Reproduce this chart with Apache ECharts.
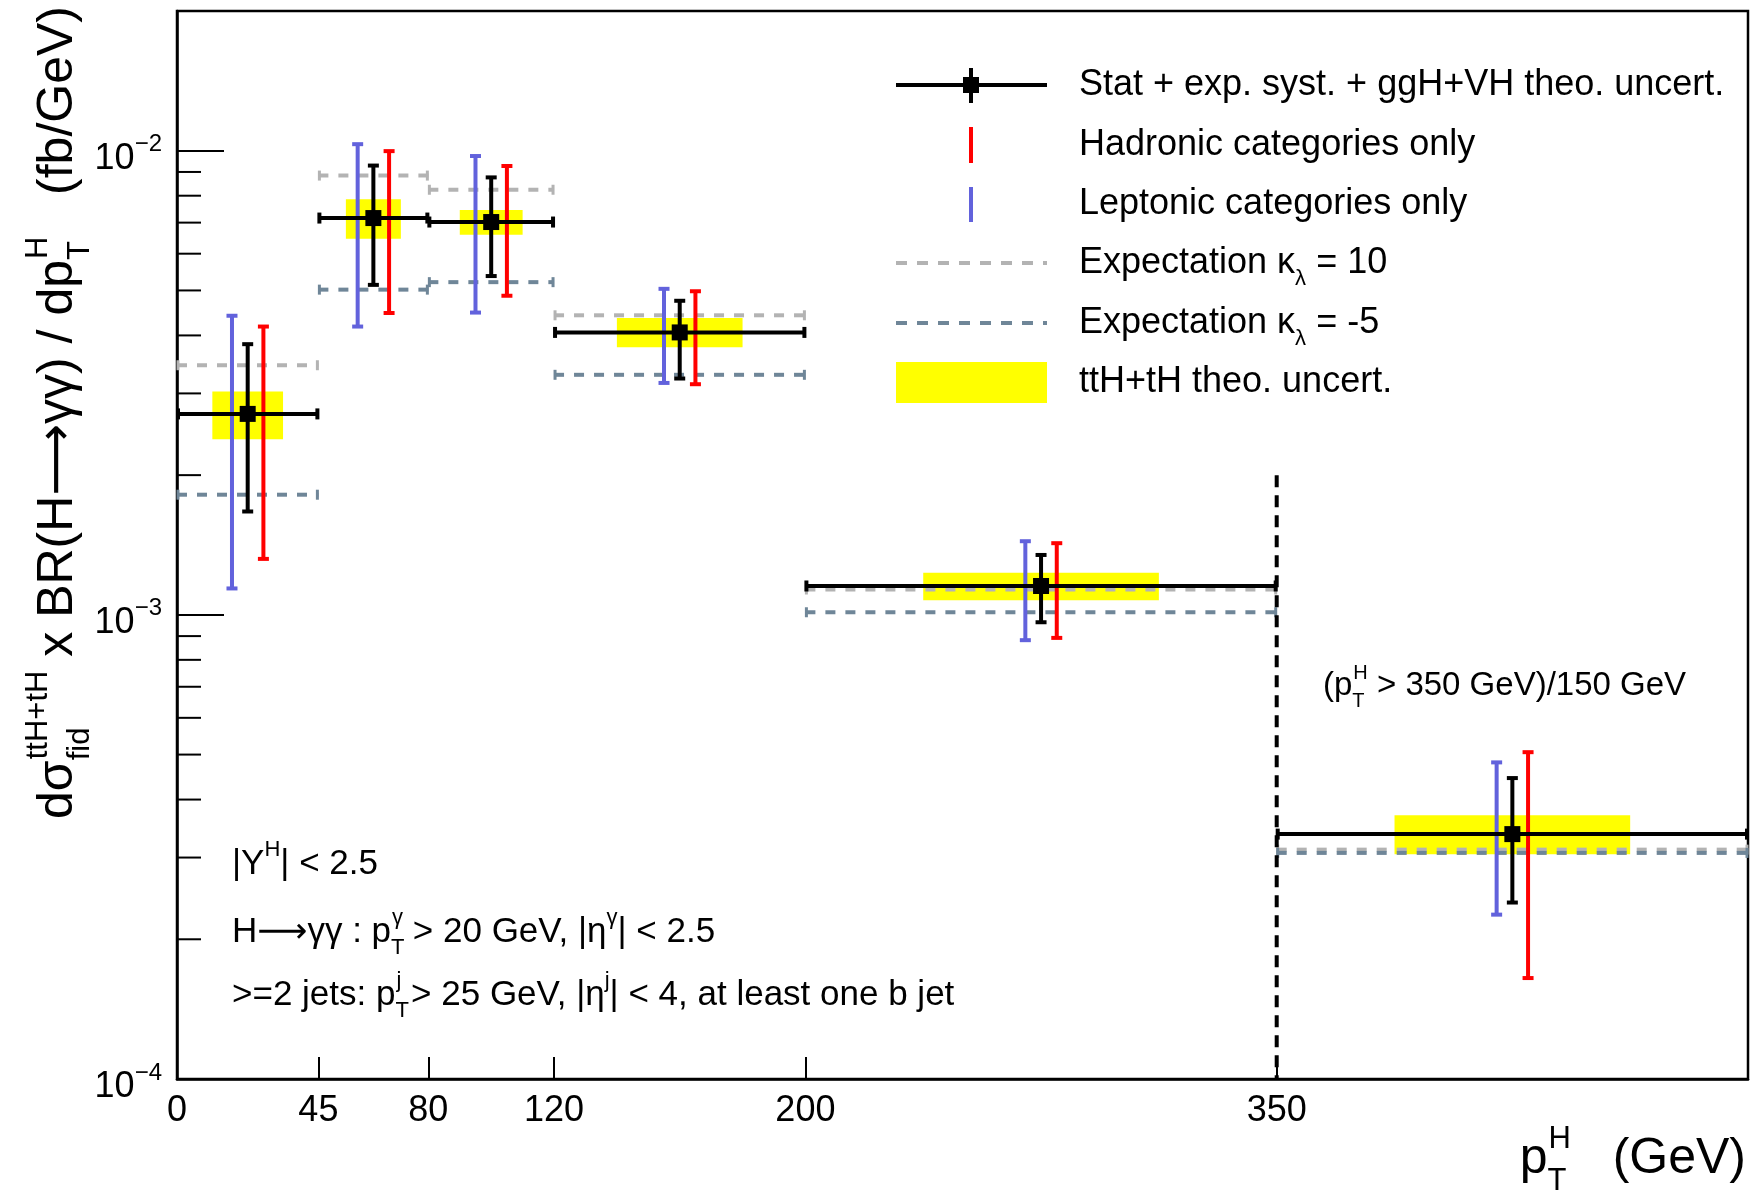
<!DOCTYPE html>
<html>
<head>
<meta charset="utf-8">
<title>ttH+tH differential cross section vs pT(H)</title>
<script src="https://cdn.jsdelivr.net/npm/echarts@6/dist/echarts.min.js"></script>
<style>
  html, body { margin: 0; padding: 0; background: #fff; }
  #chart { width: 1754px; height: 1196px; }
</style>
</head>
<body>
<div id="chart"></div>
<script>
// pT(H) bins in GeV, the last one is the overflow (>350) shown per 150 GeV
var binLo = [0, 45, 80, 120, 200, 350]
var binHi = [45, 80, 120, 200, 350, 500]

// measured dsigma/dpT x BR (fb/GeV)
var central = [2.71e-3, 7.16e-3, 7.02e-3, 4.06e-3, 1.154e-3, 3.37e-4]
var totLo = [1.67e-3, 5.14e-3, 5.37e-3, 3.23e-3, 9.64e-4, 2.40e-4]
var totHi = [3.83e-3, 9.29e-3, 8.76e-3, 4.75e-3, 1.346e-3, 4.45e-4]
// hadronic categories only
var hadLo = [1.32e-3, 4.47e-3, 4.87e-3, 3.14e-3, 8.92e-4, 1.65e-4]
var hadHi = [4.18e-3, 9.98e-3, 9.27e-3, 4.98e-3, 1.427e-3, 5.06e-4]
// leptonic categories only
var lepLo = [1.14e-3, 4.18e-3, 4.48e-3, 3.16e-3, 8.82e-4, 2.26e-4]
var lepHi = [4.41e-3, 1.033e-2, 9.74e-3, 5.04e-3, 1.441e-3, 4.81e-4]
// ttH+tH theory band
var theoLo = [2.39e-3, 6.46e-3, 6.59e-3, 3.77e-3, 1.075e-3, 3.05e-4]
var theoHi = [3.03e-3, 7.86e-3, 7.45e-3, 4.36e-3, 1.232e-3, 3.70e-4]
// expectations
var expK10 = [3.45e-3, 8.84e-3, 8.24e-3, 4.42e-3, 1.134e-3, 3.12e-4]
var expKm5 = [1.815e-3, 5.02e-3, 5.21e-3, 3.29e-3, 1.013e-3, 3.07e-4]

// overflow separator
var sepX = 350
var sepTop = 2.0e-3

// axis ticks
var xTicks = [0, 45, 80, 120, 200, 350]
var yMinorTicks = [2e-4, 3e-4, 4e-4, 5e-4, 6e-4, 7e-4, 8e-4, 9e-4,
  2e-3, 3e-3, 4e-3, 5e-3, 6e-3, 7e-3, 8e-3, 9e-3]

var FONT = "'Liberation Sans', Arial, Helvetica, 'DejaVu Sans', sans-serif"
var BLUE = '#6262dc'
var RED = '#ff0000'
var GREY = '#b3b3b3'
var SLATE = '#6f8698'
var CAP = 5.5
var SHIFT = 5 // GeV offset of the hadronic / leptonic bars
var ARROW = '\u27f6'

function seg(x1, y1, x2, y2, style) {
  return { type: 'line', shape: { x1: x1, y1: y1, x2: x2, y2: y2 }, style: style }
}

function rows() {
  var cols = Array.prototype.slice.call(arguments)
  return binLo.map(function(lo, i) {
    return [lo, binHi[i]].concat(cols.map(function(c) { return c[i] }))
  })
}

function richStyles(size) {
  var s = Math.round(size * 0.62)
  var base = { fontFamily: FONT, fill: '#000', color: '#000', align: 'left', verticalAlign: 'middle' }
  return {
    m: Object.assign({}, base, { fontSize: size }),
    sup: Object.assign({}, base, { fontSize: s, padding: [0, 0, Math.round(size * 0.8), 0] }),
    sub: Object.assign({}, base, { fontSize: s, padding: [Math.round(size * 0.9), 0, 0, 0] }),
    subw: Object.assign({}, base, { fontSize: s, width: 1, padding: [Math.round(size * 0.9), 0, 0, 0] })
  }
}

function label(text, x, y, size, align, rotation) {
  return {
    type: 'text',
    x: x,
    y: y,
    rotation: rotation || 0,
    silent: true,
    style: {
      text: text,
      rich: richStyles(size),
      font: size + 'px ' + FONT,
      fill: '#000',
      align: align || 'left',
      verticalAlign: 'middle'
    }
  }
}

function renderBand(params, api) {
  var lo = api.value(0)
  var hi = api.value(1)
  var q = (hi - lo) / 4
  var a = api.coord([lo + q, api.value(3)])
  var b = api.coord([hi - q, api.value(2)])
  return {
    type: 'rect',
    shape: { x: a[0], y: a[1], width: b[0] - a[0], height: b[1] - a[1] },
    style: { fill: '#ffff00' }
  }
}

function dashRenderer(color) {
  return function(params, api) {
    var a = api.coord([api.value(0), api.value(2)])
    var b = api.coord([api.value(1), api.value(2)])
    return {
      type: 'group',
      children: [
        seg(a[0], a[1], b[0], b[1], { stroke: color, lineWidth: 4, lineDash: [10, 10] }),
        seg(a[0] + 1, a[1] - 5, a[0] + 1, a[1] + 5, { stroke: color, lineWidth: 3 }),
        seg(b[0] - 1, b[1] - 5, b[0] - 1, b[1] + 5, { stroke: color, lineWidth: 3 })
      ]
    }
  }
}

function barRenderer(color, shift) {
  return function(params, api) {
    var x = (api.value(0) + api.value(1)) / 2 + shift
    var t = api.coord([x, api.value(3)])
    var b = api.coord([x, api.value(2)])
    var s = { stroke: color, lineWidth: 4 }
    return {
      type: 'group',
      children: [
        seg(t[0], t[1], b[0], b[1], s),
        seg(t[0] - CAP, t[1], t[0] + CAP, t[1], s),
        seg(b[0] - CAP, b[1], b[0] + CAP, b[1], s)
      ]
    }
  }
}

function renderTotal(params, api) {
  var lo = api.value(0)
  var hi = api.value(1)
  var mid = (lo + hi) / 2
  var l = api.coord([lo, api.value(2)])
  var r = api.coord([hi, api.value(2)])
  var c = api.coord([mid, api.value(2)])
  var b = api.coord([mid, api.value(3)])
  var t = api.coord([mid, api.value(4)])
  var s = { stroke: '#000', lineWidth: 4 }
  return {
    type: 'group',
    children: [
      seg(l[0], l[1], r[0], r[1], s),
      seg(l[0] + 1, l[1] - CAP, l[0] + 1, l[1] + CAP, s),
      seg(r[0] - 1, r[1] - CAP, r[0] - 1, r[1] + CAP, s),
      seg(t[0], t[1], b[0], b[1], s),
      seg(t[0] - CAP, t[1], t[0] + CAP, t[1], s),
      seg(b[0] - CAP, b[1], b[0] + CAP, b[1], s),
      { type: 'rect', shape: { x: c[0] - 8, y: c[1] - 8, width: 16, height: 16 }, style: { fill: '#000' } }
    ]
  }
}

function renderMinorTick(params, api) {
  var p = api.coord([api.value(0), api.value(1)])
  return seg(p[0], p[1], p[0] + 24, p[1], { stroke: '#000', lineWidth: 2 })
}

var chart = echarts.init(document.getElementById('chart'), null, { renderer: 'canvas' })

chart.setOption({
  animation: false,
  backgroundColor: '#fff',
  grid: {
    left: 177,
    right: 6,
    top: 11,
    bottom: 117,
    show: true,
    borderColor: '#000',
    borderWidth: 2.5,
    containLabel: false,
    outerBoundsMode: 'none'
  },
  xAxis: {
    type: 'value',
    min: 0,
    max: 500,
    splitLine: { show: false },
    axisLine: { onZero: false, lineStyle: { color: '#000', width: 2.5 } },
    axisTick: { inside: true, length: 22, customValues: xTicks, lineStyle: { color: '#000', width: 2 } },
    axisLabel: { customValues: xTicks, fontSize: 36, fontFamily: FONT, color: '#000', margin: 14 }
  },
  yAxis: {
    type: 'log',
    logBase: 10,
    min: 1e-4,
    max: 0.02,
    splitLine: { show: false },
    axisLine: { onZero: false, lineStyle: { color: '#000', width: 2.5 } },
    axisTick: { inside: true, length: 47, lineStyle: { color: '#000', width: 2 } },
    axisLabel: {
      margin: 15,
      formatter: function(v) {
        var e = Math.log10(v)
        if (Math.abs(e - Math.round(e)) > 1e-6) return ''
        return '{b|10}{e|\u2212' + Math.abs(Math.round(e)) + '}'
      },
      rich: {
        b: { fontSize: 36, fontFamily: FONT, color: '#000', padding: [16, 0, 0, 0] },
        e: { fontSize: 24, fontFamily: FONT, color: '#000', padding: [0, 0, 12, 0] }
      }
    }
  },
  series: [
    {
      name: 'ttH+tH theo. uncert.',
      type: 'custom',
      silent: true,
      renderItem: renderBand,
      encode: { x: [0, 1], y: [2, 3] },
      data: rows(theoLo, theoHi)
    },
    {
      name: 'Expectation k=10',
      type: 'custom',
      silent: true,
      renderItem: dashRenderer(GREY),
      encode: { x: [0, 1], y: 2 },
      data: rows(expK10)
    },
    {
      name: 'Expectation k=-5',
      type: 'custom',
      silent: true,
      renderItem: dashRenderer(SLATE),
      encode: { x: [0, 1], y: 2 },
      data: rows(expKm5)
    },
    {
      name: 'minor ticks',
      type: 'custom',
      silent: true,
      renderItem: renderMinorTick,
      encode: { x: 0, y: 1 },
      data: yMinorTicks.map(function(v) { return [0, v] })
    },
    {
      name: 'Leptonic categories only',
      type: 'custom',
      silent: true,
      renderItem: barRenderer(BLUE, -SHIFT),
      encode: { x: [0, 1], y: [2, 3] },
      data: rows(lepLo, lepHi)
    },
    {
      name: 'Hadronic categories only',
      type: 'custom',
      silent: true,
      renderItem: barRenderer(RED, SHIFT),
      encode: { x: [0, 1], y: [2, 3] },
      data: rows(hadLo, hadHi)
    },
    {
      name: 'Stat + exp. syst. + ggH+VH theo. uncert.',
      type: 'custom',
      silent: true,
      renderItem: renderTotal,
      encode: { x: [0, 1], y: [2, 3, 4] },
      data: rows(central, totLo, totHi)
    },
    {
      name: 'overflow',
      type: 'line',
      silent: true,
      showSymbol: false,
      symbol: 'none',
      lineStyle: { color: '#000', width: 4, type: [12, 8] },
      data: [[sepX, sepTop], [sepX, 1e-4]]
    }
  ],
  graphic: [
    // legend
    { type: 'line', silent: true, shape: { x1: 896, y1: 85, x2: 1047, y2: 85 }, style: { stroke: '#000', lineWidth: 4 } },
    { type: 'line', silent: true, shape: { x1: 971, y1: 68, x2: 971, y2: 103 }, style: { stroke: '#000', lineWidth: 4 } },
    { type: 'rect', silent: true, shape: { x: 963, y: 77, width: 16, height: 16 }, style: { fill: '#000' } },
    { type: 'line', silent: true, shape: { x1: 971, y1: 127, x2: 971, y2: 163 }, style: { stroke: RED, lineWidth: 4 } },
    { type: 'line', silent: true, shape: { x1: 971, y1: 187, x2: 971, y2: 222 }, style: { stroke: BLUE, lineWidth: 4 } },
    { type: 'line', silent: true, shape: { x1: 896, y1: 263, x2: 1047, y2: 263 }, style: { stroke: GREY, lineWidth: 4, lineDash: [11, 10] } },
    { type: 'line', silent: true, shape: { x1: 896, y1: 323, x2: 1047, y2: 323 }, style: { stroke: SLATE, lineWidth: 4, lineDash: [11, 10] } },
    { type: 'rect', silent: true, shape: { x: 896, y: 362, width: 151, height: 41 }, style: { fill: '#ffff00' } },
    label('{m|Stat + exp. syst. + ggH+VH theo. uncert.}', 1079, 85, 36),
    label('{m|Hadronic categories only}', 1079, 145, 36),
    label('{m|Leptonic categories only}', 1079, 204, 36),
    label('{m|Expectation \u03ba}{sub|\u03bb}{m| = 10}', 1079, 263, 36),
    label('{m|Expectation \u03ba}{sub|\u03bb}{m| = -5}', 1079, 323, 36),
    label('{m|ttH+tH theo. uncert.}', 1079, 382, 36),
    // selection cuts
    label('{m||Y}{sup|H}{m|| < 2.5}', 232, 864, 35),
    label('{m|H' + ARROW + '\u03b3\u03b3 : p}{subw|T}{sup|\u03b3}{m| > 20 GeV, |\u03b7}{sup|\u03b3}{m|| < 2.5}', 232, 932, 35),
    label('{m|>=2 jets: p}{subw|T}{sup|j}{m| > 25 GeV, |\u03b7}{sup|j}{m|| < 4, at least one b jet}', 232, 995, 35),
    label('{m|(p}{subw|T}{sup|H}{m| > 350 GeV)/150 GeV}', 1323, 686, 33),
    // axis titles
    label('{m|p}{subw|T}{sup|H}{m|   (GeV)}', 1746, 1159, 50, 'right'),
    label('{m|d\u03c3}{subw|fid}{sup|ttH+tH}{m| x BR(H' + ARROW + '\u03b3\u03b3) / dp}{subw|T}{sup|H}{m|   (fb/GeV)}',
      58, 6, 50, 'right', Math.PI / 2)
  ]
})
</script>
</body>
</html>
